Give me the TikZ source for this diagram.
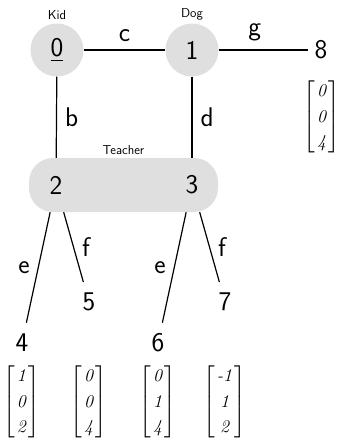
\documentclass[tikz,border=0pt]{standalone}
\usepackage{amsmath}
\newcommand{\vectthree}[3]{$\renewcommand{\arraystretch}{1.15}\begin{bmatrix}\kern1.5pt\textit{#1}\kern2.5pt\\ \kern1.5pt\textit{#2}\kern2.5pt\\ \kern1.5pt\textit{#3}\kern2.5pt\end{bmatrix}$}
\begin{document}
\begin{tikzpicture}[x=1pt,y=-1pt,
  big/.style={font=\sffamily\fontsize{27}{31}\selectfont},
  small/.style={font=\sffamily\fontsize{13}{15}\selectfont},
  vtx/.style={big,circle,fill=gray!25,minimum size=53pt,inner sep=0pt},
  leaf/.style={big,circle,minimum size=41pt,inner sep=0pt},
  inbox/.style={big,rectangle,minimum height=54pt,minimum width=16pt,inner sep=0pt},
  vec/.style={font=\fontsize{18}{22}\selectfont,inner sep=0pt},
  edge/.style={line width=1.2pt},
  elab/.style={big,inner sep=8pt}]
\useasboundingbox (0,0) rectangle (343,444);
\node[vtx,label={[small,label distance=0pt]above:Kid}] (n0) at (57,50) {\underline{0}};
\node[vtx,label={[small,label distance=0pt]above:Dog}] (n1) at (192,50) {1};
\node[big,inner sep=6pt] (n8) at (321,50) {8};
\node[rectangle,rounded corners=24pt,fill=gray!25,minimum width=189pt,minimum height=54pt,inner sep=0pt,
  label={[small,label distance=0pt]above:Teacher}] (T) at (123.5,185) {};
\node[inbox] (n2) at (56,185) {2};
\node[inbox] (n3) at (192,185) {3};
\node[leaf] (n4) at (22,343) {4};
\node[leaf] (n5) at (89,302) {5};
\node[leaf] (n6) at (158,343) {6};
\node[leaf] (n7) at (225,302) {7};
\node[vec] (m8) at (322,117) {\vectthree{0}{0}{4}};
\node[vec] (m4) at (22,402) {\vectthree{1}{0}{2}};
\node[vec] (m5) at (89,402) {\vectthree{0}{0}{4}};
\node[vec] (m6) at (158,402) {\vectthree{0}{1}{4}};
\node[vec] (m7) at (225,402) {\vectthree{-1}{1}{2}};
\draw[edge] (n0) -- node[elab,above] {c} (n1);
\draw[edge] (n1) -- node[elab,above,pos=0.4] {g} (n8);
\draw[edge] (n0) -- node[elab,right] {b} (n2);
\draw[edge] (n1) -- node[elab,right] {d} (n3);
\draw[edge] (n2) -- node[elab,left] {e} (n4);
\draw[edge] (n2) -- node[elab,right] {f} (n5);
\draw[edge] (n3) -- node[elab,left] {e} (n6);
\draw[edge] (n3) -- node[elab,right] {f} (n7);
\end{tikzpicture}
\end{document}
